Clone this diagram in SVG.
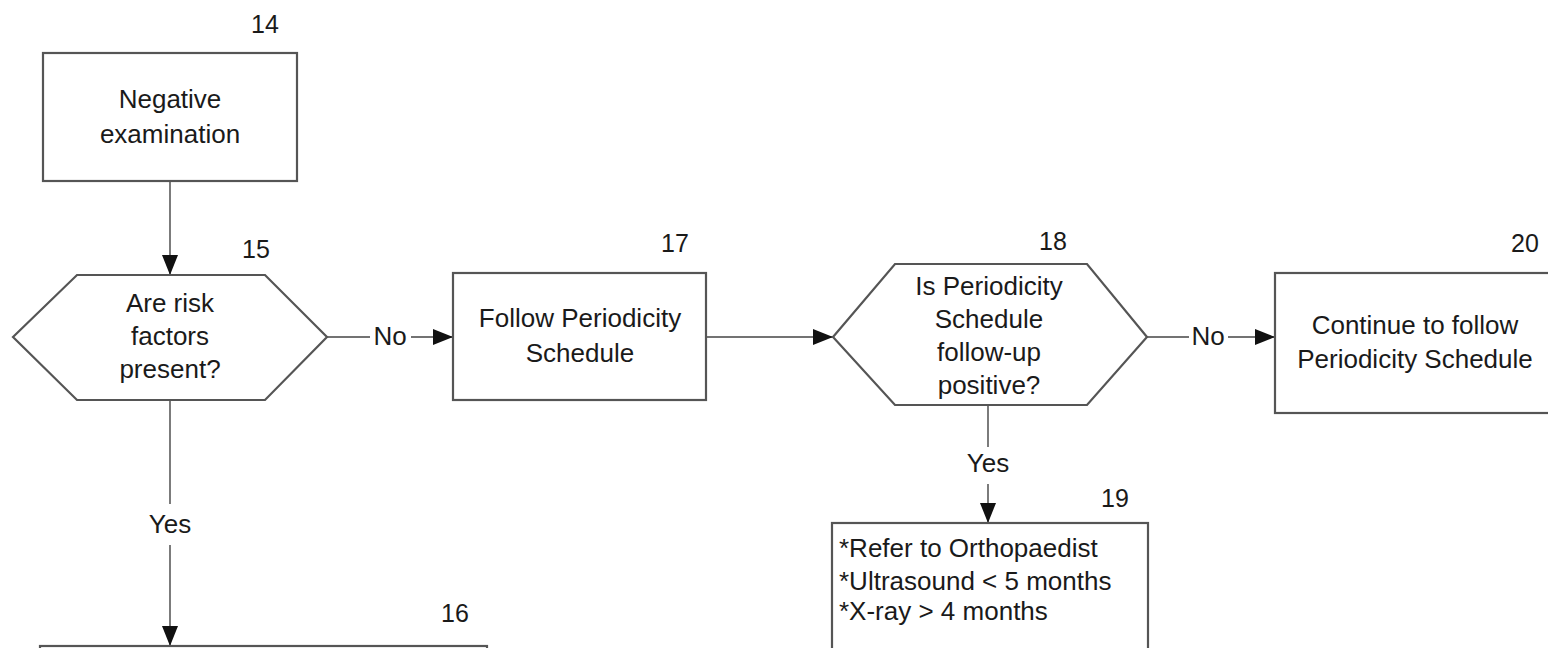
<svg xmlns="http://www.w3.org/2000/svg" width="1548" height="648" viewBox="0 0 1548 648">
<defs>
<style>
.box{fill:#fff;stroke:#555;stroke-width:2.2}
.ln{fill:none;stroke:#444;stroke-width:1.4}
text{font-family:"Liberation Sans",Arial,sans-serif;font-size:26px;fill:#1a1a1a}
.c{text-anchor:middle}
.num{text-anchor:middle;font-size:25px}
</style>
<marker id="ah" markerUnits="userSpaceOnUse" markerWidth="20" markerHeight="16" viewBox="0 0 20 16" refX="20" refY="8" orient="auto">
<path d="M0,0 L20,8 L0,16 Z" fill="#111"/>
</marker>
</defs>
<rect width="1548" height="648" fill="#fff"/>

<g id="connectors">
<line class="ln" x1="170" y1="181" x2="170" y2="275" marker-end="url(#ah)"/>
<line class="ln" x1="327" y1="337" x2="370" y2="337"/>
<text x="390" y="345" class="c">No</text>
<line class="ln" x1="411" y1="337" x2="453" y2="337" marker-end="url(#ah)"/>
<line class="ln" x1="706" y1="337" x2="833" y2="337" marker-end="url(#ah)"/>
<line class="ln" x1="1147" y1="337" x2="1189" y2="337"/>
<text x="1208" y="345" class="c">No</text>
<line class="ln" x1="1228" y1="337" x2="1275" y2="337" marker-end="url(#ah)"/>
<line class="ln" x1="988" y1="405" x2="988" y2="447"/>
<text x="988" y="472" class="c">Yes</text>
<line class="ln" x1="988" y1="484" x2="988" y2="523" marker-end="url(#ah)"/>
<line class="ln" x1="170" y1="400" x2="170" y2="504"/>
<text x="170" y="533" class="c">Yes</text>
<line class="ln" x1="170" y1="545" x2="170" y2="646" marker-end="url(#ah)"/>
</g>

<g id="n14">
<rect class="box" x="43" y="53" width="254" height="128"/>
<text x="170" y="108" class="c">Negative</text>
<text x="170" y="143" class="c">examination</text>
<text x="265" y="33" class="num">14</text>
</g>

<g id="n15">
<polygon class="box" points="13,337 77,275 265,275 327,337 265,400 77,400"/>
<text x="170" y="312" class="c">Are risk</text>
<text x="170" y="345" class="c">factors</text>
<text x="170" y="378" class="c">present?</text>
<text x="256" y="258" class="num">15</text>
</g>

<g id="n17">
<rect class="box" x="453" y="273" width="253" height="127"/>
<text x="580" y="327" class="c">Follow Periodicity</text>
<text x="580" y="362" class="c">Schedule</text>
<text x="675" y="252" class="num">17</text>
</g>

<g id="n18">
<polygon class="box" points="833,337 895,264 1087,264 1147,337 1087,405 895,405"/>
<text x="989" y="295" class="c">Is Periodicity</text>
<text x="989" y="328" class="c">Schedule</text>
<text x="989" y="361" class="c">follow-up</text>
<text x="989" y="394" class="c">positive?</text>
<text x="1053" y="250" class="num">18</text>
</g>

<g id="n20">
<rect class="box" x="1275" y="273" width="290" height="140"/>
<text x="1415" y="334" class="c">Continue to follow</text>
<text x="1415" y="368" class="c">Periodicity Schedule</text>
<text x="1525" y="252" class="num">20</text>
</g>

<g id="n19">
<rect class="box" x="832" y="523" width="316" height="140"/>
<text x="839" y="557">*Refer to Orthopaedist</text>
<text x="839" y="590">*Ultrasound &lt; 5 months</text>
<text x="839" y="620">*X-ray &gt; 4 months</text>
<text x="1115" y="507" class="num">19</text>
</g>

<g id="n16">
<rect class="box" x="40" y="646" width="447" height="40"/>
<text x="455" y="622" class="num">16</text>
</g>
</svg>
